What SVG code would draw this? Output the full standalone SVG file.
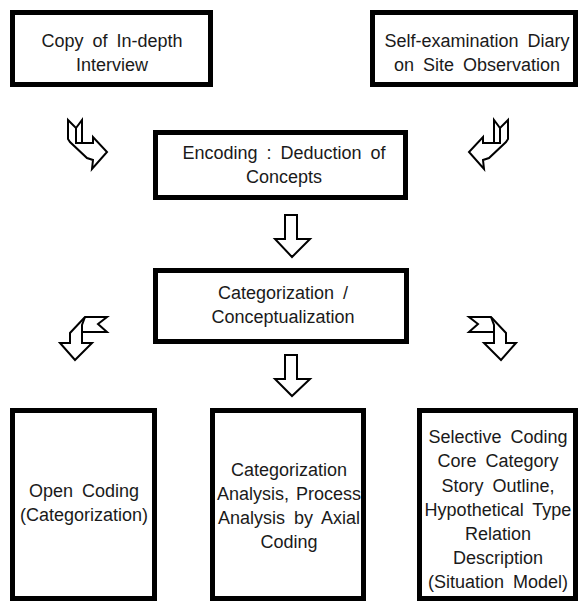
<svg xmlns="http://www.w3.org/2000/svg" width="580" height="611" viewBox="0 0 580 611">
<style>
.box{fill:#fff;stroke:#000;stroke-width:5}
.t{font-family:"Liberation Sans",Arial,sans-serif;font-size:18px;fill:#1a1a1a;text-anchor:middle;word-spacing:4px}
.arr{fill:#fff;stroke:#000;stroke-width:2;stroke-linejoin:miter}
.fold{fill:none;stroke:#000;stroke-width:2}
</style>
<rect width="580" height="611" fill="#fff"/>
<g id="connectors">
  <g id="arrowA">
    <path class="arr" d="M68,120 L76,128 L82,120 L82,143 L93,143 L93,137 L107,152 L92,169 L93,160 L87,158 L70,142 L68,139 Z"/>
    <path class="fold" d="M76,128 L76,143 L82,143"/>
  </g>
  <g id="arrowB" transform="translate(576,0) scale(-1,1)">
    <path class="arr" d="M68,120 L76,128 L82,120 L82,143 L93,143 L93,137 L107,152 L92,169 L93,160 L87,158 L70,142 L68,139 Z"/>
    <path class="fold" d="M76,128 L76,143 L82,143"/>
  </g>
  <g id="arrowC">
    <path class="arr" d="M85,317 L107,317 L98,324 L107,332 L82,332 L82,343 L92,343 L75,360 L60,343 L70,343 L70,333 Z"/>
    <path class="fold" d="M82,332 L82,325 L85,317"/>
  </g>
  <g id="arrowD" transform="translate(576,0) scale(-1,1)">
    <path class="arr" d="M85,317 L107,317 L98,324 L107,332 L82,332 L82,343 L92,343 L75,360 L60,343 L70,343 L70,333 Z"/>
    <path class="fold" d="M82,332 L82,325 L85,317"/>
  </g>
  <path id="down1" class="arr" d="M285,215 L297,215 L297,239 L310,239 L292,257 L275,239 L285,239 Z"/>
  <path id="down2" class="arr" d="M285,355 L297,355 L297,379 L310,379 L292,396 L275,379 L285,379 Z"/>
</g>
<g id="n1">
  <rect class="box" x="12.5" y="12.5" width="198" height="72"/>
  <text class="t" x="112" y="47">Copy of In-depth</text>
  <text class="t" x="112" y="71">Interview</text>
</g>
<g id="n2">
  <rect class="box" x="372.5" y="12.5" width="203" height="72"/>
  <text class="t" x="477" y="47">Self-examination Diary</text>
  <text class="t" x="477" y="71">on Site Observation</text>
</g>
<g id="n3">
  <rect class="box" x="155.5" y="132.5" width="250" height="65"/>
  <text class="t" x="284" y="159">Encoding : Deduction of</text>
  <text class="t" x="284" y="183">Concepts</text>
</g>
<g id="n4">
  <rect class="box" x="155.5" y="270.5" width="251" height="71"/>
  <text class="t" x="283" y="299">Categorization /</text>
  <text class="t" x="283" y="323">Conceptualization</text>
</g>
<g id="n5">
  <rect class="box" x="12.5" y="410.5" width="142" height="188"/>
  <text class="t" x="84" y="497">Open Coding</text>
  <text class="t" x="84" y="521">(Categorization)</text>
</g>
<g id="n6">
  <rect class="box" x="212.5" y="410.5" width="151" height="188"/>
  <text class="t" x="289" y="476">Categorization</text>
  <text class="t" x="289" y="500" style="word-spacing:2px">Analysis, Process</text>
  <text class="t" x="289" y="524">Analysis by Axial</text>
  <text class="t" x="289" y="548">Coding</text>
</g>
<g id="n7">
  <rect class="box" x="419.5" y="410.5" width="156" height="188"/>
  <text class="t" x="498" y="443">Selective Coding</text>
  <text class="t" x="498" y="467">Core Category</text>
  <text class="t" x="498" y="492">Story Outline,</text>
  <text class="t" x="498" y="516">Hypothetical Type</text>
  <text class="t" x="498" y="540">Relation</text>
  <text class="t" x="498" y="564">Description</text>
  <text class="t" x="498" y="588">(Situation Model)</text>
</g>
</svg>
